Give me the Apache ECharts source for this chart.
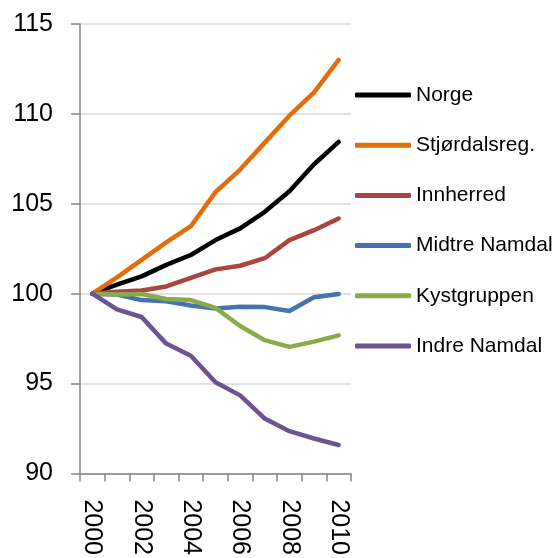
<!DOCTYPE html>
<html>
<head>
<meta charset="utf-8">
<script src="https://cdn.jsdelivr.net/npm/echarts@6/dist/echarts.min.js"></script>
<style>
  html, body { margin: 0; padding: 0; background: #fff; }
  #chart { width: 555px; height: 558px; }
</style>
</head>
<body>
<div id="chart"></div>
<script>
var years = ['2000', '2001', '2002', '2003', '2004', '2005', '2006', '2007', '2008', '2009', '2010'];
var norge = [100, 100.5, 100.96, 101.6, 102.15, 102.98, 103.63, 104.55, 105.7, 107.2, 108.44];
var stjordal = [100, 100.9, 101.88, 102.85, 103.75, 105.65, 106.9, 108.4, 109.9, 111.2, 113.0];
var innherred = [100, 100.1, 100.17, 100.4, 100.87, 101.35, 101.55, 101.97, 102.98, 103.53, 104.18];
var midtre = [100, 99.95, 99.64, 99.58, 99.34, 99.17, 99.27, 99.25, 99.03, 99.8, 99.98];
var kyst = [100, 99.95, 99.98, 99.7, 99.64, 99.21, 98.2, 97.41, 97.04, 97.33, 97.68];
var indre = [100, 99.12, 98.7, 97.22, 96.54, 95.07, 94.34, 93.05, 92.35, 91.94, 91.58];
var yTicks = { min: 90, max: 115, step: 5 };

window.onload = function() {
    var chart = echarts.init(document.getElementById('chart'));

    function line(name, data, color) {
        return {
            name: name,
            type: 'line',
            data: data,
            symbol: 'none',
            smooth: false,
            lineStyle: { color: color, width: 4.5, cap: 'round', join: 'round' },
            itemStyle: { color: color }
        };
    }

    var option = {
        animation: false,
        backgroundColor: '#ffffff',
        grid: { left: 80, right: 204, top: 24, bottom: 81, containLabel: false },
        legend: {
            orient: 'vertical',
            left: 355,
            top: 83,
            padding: 0,
            icon: 'roundRect',
            itemWidth: 56,
            itemHeight: 5,
            itemGap: 26.2,
            textStyle: { fontFamily: 'Liberation Sans, Arial', fontSize: 21, color: '#000', lineHeight: 24 },
            data: ['Norge', 'Stjørdalsreg.', 'Innherred', 'Midtre Namdal', 'Kystgruppen', 'Indre Namdal']
        },
        xAxis: {
            type: 'category',
            data: years,
            boundaryGap: true,
            axisLine: { lineStyle: { color: '#868686', width: 1.5 } },
            axisTick: { show: true, interval: 0, length: 8, lineStyle: { color: '#868686', width: 1.5 } },
            axisLabel: {
                interval: 1,
                rotate: -90,
                margin: 26,
                fontFamily: 'Liberation Sans, Arial',
                fontSize: 25,
                color: '#000'
            },
            splitLine: { show: false }
        },
        yAxis: {
            type: 'value',
            min: yTicks.min,
            max: yTicks.max,
            interval: yTicks.step,
            axisLine: { show: true, lineStyle: { color: '#868686', width: 1.5 } },
            axisTick: { show: true, length: 9, lineStyle: { color: '#868686', width: 1.5 } },
            axisLabel: { margin: 27, fontFamily: 'Liberation Sans, Arial', fontSize: 25, color: '#000' },
            splitLine: { show: true, lineStyle: { color: '#d9d9d9', width: 1.5 } }
        },
        series: [
            line('Norge', norge, '#000000'),
            line('Stjørdalsreg.', stjordal, '#e46c0a'),
            line('Innherred', innherred, '#a9443f'),
            line('Midtre Namdal', midtre, '#4573ab'),
            line('Kystgruppen', kyst, '#8bab4a'),
            line('Indre Namdal', indre, '#6b5394')
        ]
    };

    chart.setOption(option);
};
</script>
</body>
</html>
